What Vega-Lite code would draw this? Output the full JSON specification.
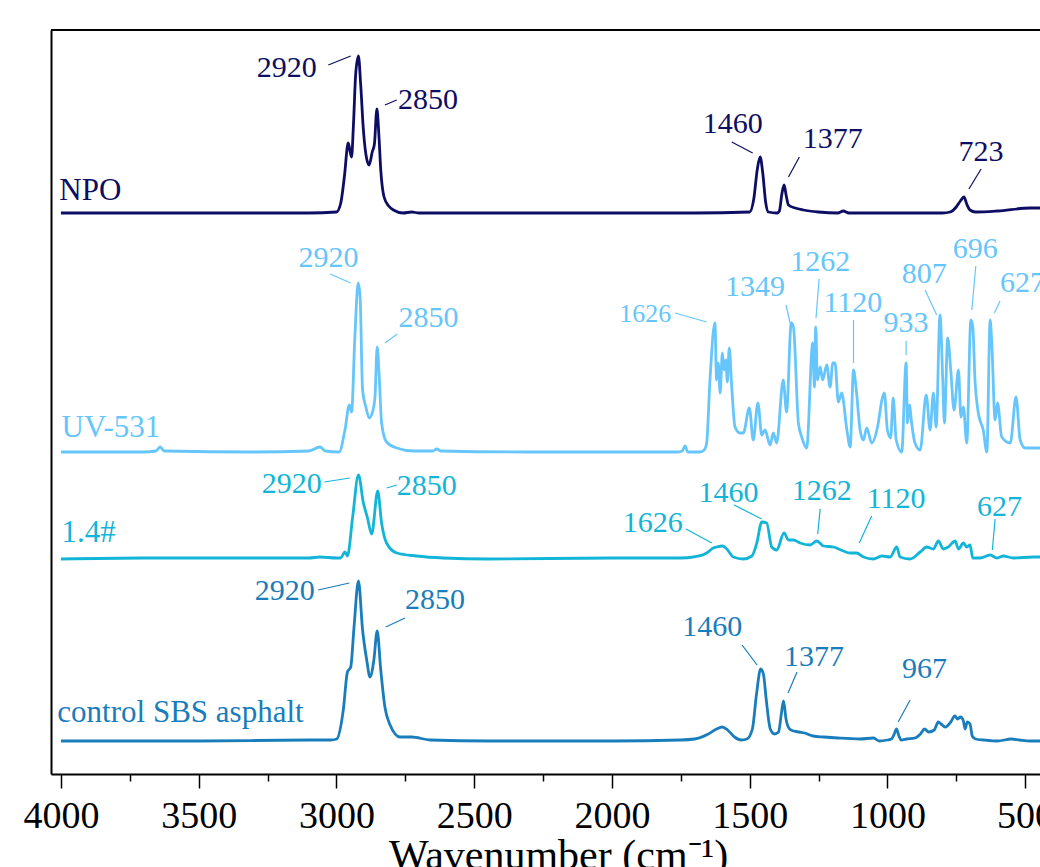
{
 "$schema": "https://vega.github.io/schema/vega-lite/v6.json",
 "width": 989, "height": 744,
 "autosize": {"type": "none"},
 "padding": {"left": 51, "top": 30, "right": 0, "bottom": 93},
 "background": "white",
 "config": {"view": {"stroke": null}, "font": "Liberation Serif"},
 "datasets": {
  "spectra": [
   {"s":"NPO","wn":4000,"a":561},{"s":"NPO","wn":3500,"a":561},{"s":"NPO","wn":3100,"a":561},{"s":"NPO","wn":3000,"a":562},{"s":"NPO","wn":2985,"a":570},{"s":"NPO","wn":2970,"a":600},{"s":"NPO","wn":2960,"a":628},{"s":"NPO","wn":2957,"a":631},{"s":"NPO","wn":2950,"a":622},{"s":"NPO","wn":2945,"a":617},{"s":"NPO","wn":2938,"a":650},{"s":"NPO","wn":2930,"a":700},{"s":"NPO","wn":2920,"a":718},{"s":"NPO","wn":2912,"a":690},{"s":"NPO","wn":2902,"a":644},{"s":"NPO","wn":2890,"a":615},{"s":"NPO","wn":2881,"a":609},{"s":"NPO","wn":2870,"a":622},{"s":"NPO","wn":2862,"a":630},{"s":"NPO","wn":2853,"a":665},{"s":"NPO","wn":2846,"a":640},{"s":"NPO","wn":2839,"a":604},{"s":"NPO","wn":2827,"a":577},{"s":"NPO","wn":2810,"a":568},{"s":"NPO","wn":2793,"a":564},{"s":"NPO","wn":2758,"a":561},{"s":"NPO","wn":2727,"a":562},{"s":"NPO","wn":2700,"a":561},{"s":"NPO","wn":2500,"a":561},{"s":"NPO","wn":2000,"a":561},{"s":"NPO","wn":1700,"a":561},{"s":"NPO","wn":1500,"a":562},{"s":"NPO","wn":1485,"a":575},{"s":"NPO","wn":1472,"a":605},{"s":"NPO","wn":1462,"a":617},{"s":"NPO","wn":1452,"a":600},{"s":"NPO","wn":1442,"a":572},{"s":"NPO","wn":1432,"a":562},{"s":"NPO","wn":1400,"a":561},{"s":"NPO","wn":1392,"a":563},{"s":"NPO","wn":1383,"a":580},{"s":"NPO","wn":1375,"a":589},{"s":"NPO","wn":1367,"a":578},{"s":"NPO","wn":1359,"a":569},{"s":"NPO","wn":1335,"a":566},{"s":"NPO","wn":1305,"a":564},{"s":"NPO","wn":1250,"a":562},{"s":"NPO","wn":1180,"a":561},{"s":"NPO","wn":1160,"a":563},{"s":"NPO","wn":1140,"a":561},{"s":"NPO","wn":1000,"a":561},{"s":"NPO","wn":800,"a":561},{"s":"NPO","wn":772,"a":562},{"s":"NPO","wn":750,"a":567},{"s":"NPO","wn":735,"a":573},{"s":"NPO","wn":722,"a":577},{"s":"NPO","wn":712,"a":570},{"s":"NPO","wn":700,"a":564},{"s":"NPO","wn":680,"a":562},{"s":"NPO","wn":600,"a":563},{"s":"NPO","wn":482,"a":566},{"s":"NPO","wn":446,"a":566},
   {"s":"UV-531","wn":4000,"a":322},{"s":"UV-531","wn":3700,"a":322},{"s":"UV-531","wn":3655,"a":323},{"s":"UV-531","wn":3640,"a":327},{"s":"UV-531","wn":3625,"a":323},{"s":"UV-531","wn":3300,"a":322},{"s":"UV-531","wn":3100,"a":323},{"s":"UV-531","wn":3060,"a":327},{"s":"UV-531","wn":3040,"a":323},{"s":"UV-531","wn":2990,"a":322},{"s":"UV-531","wn":2969,"a":344},{"s":"UV-531","wn":2953,"a":369},{"s":"UV-531","wn":2945,"a":362},{"s":"UV-531","wn":2933,"a":437},{"s":"UV-531","wn":2921,"a":491},{"s":"UV-531","wn":2914,"a":477},{"s":"UV-531","wn":2905,"a":384},{"s":"UV-531","wn":2893,"a":367},{"s":"UV-531","wn":2881,"a":356},{"s":"UV-531","wn":2869,"a":362},{"s":"UV-531","wn":2860,"a":377},{"s":"UV-531","wn":2852,"a":427},{"s":"UV-531","wn":2844,"a":394},{"s":"UV-531","wn":2836,"a":351},{"s":"UV-531","wn":2818,"a":332},{"s":"UV-531","wn":2781,"a":326},{"s":"UV-531","wn":2721,"a":323},{"s":"UV-531","wn":2650,"a":323},{"s":"UV-531","wn":2636,"a":325},{"s":"UV-531","wn":2620,"a":323},{"s":"UV-531","wn":2300,"a":322},{"s":"UV-531","wn":2000,"a":322},{"s":"UV-531","wn":1760,"a":322},{"s":"UV-531","wn":1745,"a":323},{"s":"UV-531","wn":1734,"a":328},{"s":"UV-531","wn":1725,"a":322},{"s":"UV-531","wn":1680,"a":322},{"s":"UV-531","wn":1665,"a":324},{"s":"UV-531","wn":1656,"a":331},{"s":"UV-531","wn":1644,"a":394},{"s":"UV-531","wn":1626,"a":451},{"s":"UV-531","wn":1620,"a":394},{"s":"UV-531","wn":1614,"a":411},{"s":"UV-531","wn":1607,"a":381},{"s":"UV-531","wn":1599,"a":421},{"s":"UV-531","wn":1593,"a":404},{"s":"UV-531","wn":1586,"a":414},{"s":"UV-531","wn":1581,"a":392},{"s":"UV-531","wn":1574,"a":426},{"s":"UV-531","wn":1565,"a":387},{"s":"UV-531","wn":1553,"a":347},{"s":"UV-531","wn":1535,"a":341},{"s":"UV-531","wn":1523,"a":341},{"s":"UV-531","wn":1501,"a":366},{"s":"UV-531","wn":1487,"a":334},{"s":"UV-531","wn":1470,"a":371},{"s":"UV-531","wn":1456,"a":339},{"s":"UV-531","wn":1444,"a":344},{"s":"UV-531","wn":1426,"a":329},{"s":"UV-531","wn":1414,"a":341},{"s":"UV-531","wn":1402,"a":331},{"s":"UV-531","wn":1378,"a":394},{"s":"UV-531","wn":1366,"a":362},{"s":"UV-531","wn":1349,"a":451},{"s":"UV-531","wn":1341,"a":447},{"s":"UV-531","wn":1323,"a":351},{"s":"UV-531","wn":1311,"a":337},{"s":"UV-531","wn":1293,"a":326},{"s":"UV-531","wn":1271,"a":431},{"s":"UV-531","wn":1265,"a":387},{"s":"UV-531","wn":1260,"a":447},{"s":"UV-531","wn":1254,"a":394},{"s":"UV-531","wn":1244,"a":407},{"s":"UV-531","wn":1235,"a":394},{"s":"UV-531","wn":1220,"a":409},{"s":"UV-531","wn":1208,"a":387},{"s":"UV-531","wn":1198,"a":411},{"s":"UV-531","wn":1190,"a":411},{"s":"UV-531","wn":1178,"a":372},{"s":"UV-531","wn":1166,"a":381},{"s":"UV-531","wn":1147,"a":344},{"s":"UV-531","wn":1135,"a":327},{"s":"UV-531","wn":1123,"a":404},{"s":"UV-531","wn":1114,"a":387},{"s":"UV-531","wn":1099,"a":344},{"s":"UV-531","wn":1087,"a":334},{"s":"UV-531","wn":1075,"a":346},{"s":"UV-531","wn":1057,"a":331},{"s":"UV-531","wn":1033,"a":351},{"s":"UV-531","wn":1020,"a":374},{"s":"UV-531","wn":1011,"a":381},{"s":"UV-531","wn":1000,"a":344},{"s":"UV-531","wn":988,"a":336},{"s":"UV-531","wn":979,"a":376},{"s":"UV-531","wn":968,"a":334},{"s":"UV-531","wn":948,"a":322},{"s":"UV-531","wn":932,"a":411},{"s":"UV-531","wn":927,"a":351},{"s":"UV-531","wn":920,"a":369},{"s":"UV-531","wn":912,"a":351},{"s":"UV-531","wn":900,"a":331},{"s":"UV-531","wn":881,"a":324},{"s":"UV-531","wn":859,"a":379},{"s":"UV-531","wn":845,"a":344},{"s":"UV-531","wn":833,"a":381},{"s":"UV-531","wn":823,"a":347},{"s":"UV-531","wn":809,"a":459},{"s":"UV-531","wn":799,"a":394},{"s":"UV-531","wn":793,"a":351},{"s":"UV-531","wn":781,"a":436},{"s":"UV-531","wn":770,"a":404},{"s":"UV-531","wn":758,"a":364},{"s":"UV-531","wn":742,"a":404},{"s":"UV-531","wn":733,"a":357},{"s":"UV-531","wn":724,"a":367},{"s":"UV-531","wn":712,"a":331},{"s":"UV-531","wn":697,"a":454},{"s":"UV-531","wn":690,"a":447},{"s":"UV-531","wn":682,"a":394},{"s":"UV-531","wn":670,"a":361},{"s":"UV-531","wn":652,"a":344},{"s":"UV-531","wn":639,"a":322},{"s":"UV-531","wn":627,"a":454},{"s":"UV-531","wn":621,"a":431},{"s":"UV-531","wn":609,"a":354},{"s":"UV-531","wn":600,"a":371},{"s":"UV-531","wn":585,"a":337},{"s":"UV-531","wn":554,"a":331},{"s":"UV-531","wn":533,"a":377},{"s":"UV-531","wn":518,"a":334},{"s":"UV-531","wn":500,"a":326},{"s":"UV-531","wn":446,"a":326},
   {"s":"1.4#","wn":4000,"a":215},{"s":"1.4#","wn":3700,"a":216},{"s":"1.4#","wn":3300,"a":216},{"s":"1.4#","wn":3100,"a":216},{"s":"1.4#","wn":3060,"a":217},{"s":"1.4#","wn":3000,"a":216},{"s":"1.4#","wn":2985,"a":216},{"s":"1.4#","wn":2969,"a":222},{"s":"1.4#","wn":2960,"a":218},{"s":"1.4#","wn":2941,"a":257},{"s":"1.4#","wn":2920,"a":299},{"s":"1.4#","wn":2902,"a":271},{"s":"1.4#","wn":2888,"a":257},{"s":"1.4#","wn":2872,"a":240},{"s":"1.4#","wn":2850,"a":283},{"s":"1.4#","wn":2836,"a":251},{"s":"1.4#","wn":2818,"a":231},{"s":"1.4#","wn":2781,"a":221},{"s":"1.4#","wn":2709,"a":218},{"s":"1.4#","wn":2612,"a":216},{"s":"1.4#","wn":2450,"a":215},{"s":"1.4#","wn":2000,"a":216},{"s":"1.4#","wn":1750,"a":216},{"s":"1.4#","wn":1704,"a":217},{"s":"1.4#","wn":1656,"a":221},{"s":"1.4#","wn":1632,"a":226},{"s":"1.4#","wn":1620,"a":227},{"s":"1.4#","wn":1598,"a":228},{"s":"1.4#","wn":1583,"a":225},{"s":"1.4#","wn":1559,"a":217},{"s":"1.4#","wn":1523,"a":215},{"s":"1.4#","wn":1492,"a":218},{"s":"1.4#","wn":1474,"a":231},{"s":"1.4#","wn":1456,"a":252},{"s":"1.4#","wn":1438,"a":251},{"s":"1.4#","wn":1420,"a":227},{"s":"1.4#","wn":1402,"a":224},{"s":"1.4#","wn":1375,"a":241},{"s":"1.4#","wn":1359,"a":234},{"s":"1.4#","wn":1341,"a":234},{"s":"1.4#","wn":1317,"a":231},{"s":"1.4#","wn":1281,"a":229},{"s":"1.4#","wn":1256,"a":233},{"s":"1.4#","wn":1232,"a":228},{"s":"1.4#","wn":1196,"a":227},{"s":"1.4#","wn":1160,"a":223},{"s":"1.4#","wn":1136,"a":221},{"s":"1.4#","wn":1112,"a":221},{"s":"1.4#","wn":1087,"a":217},{"s":"1.4#","wn":1051,"a":215},{"s":"1.4#","wn":1020,"a":218},{"s":"1.4#","wn":990,"a":217},{"s":"1.4#","wn":966,"a":227},{"s":"1.4#","wn":954,"a":217},{"s":"1.4#","wn":918,"a":215},{"s":"1.4#","wn":881,"a":222},{"s":"1.4#","wn":857,"a":227},{"s":"1.4#","wn":833,"a":225},{"s":"1.4#","wn":815,"a":233},{"s":"1.4#","wn":797,"a":225},{"s":"1.4#","wn":779,"a":227},{"s":"1.4#","wn":754,"a":233},{"s":"1.4#","wn":742,"a":225},{"s":"1.4#","wn":724,"a":231},{"s":"1.4#","wn":712,"a":227},{"s":"1.4#","wn":700,"a":229},{"s":"1.4#","wn":690,"a":216},{"s":"1.4#","wn":663,"a":216},{"s":"1.4#","wn":627,"a":219},{"s":"1.4#","wn":603,"a":216},{"s":"1.4#","wn":579,"a":218},{"s":"1.4#","wn":543,"a":216},{"s":"1.4#","wn":470,"a":217},{"s":"1.4#","wn":446,"a":217},
   {"s":"control SBS asphalt","wn":4000,"a":33},{"s":"control SBS asphalt","wn":3500,"a":33},{"s":"control SBS asphalt","wn":3100,"a":34},{"s":"control SBS asphalt","wn":3020,"a":34},{"s":"control SBS asphalt","wn":2999,"a":35},{"s":"control SBS asphalt","wn":2975,"a":64},{"s":"control SBS asphalt","wn":2960,"a":102},{"s":"control SBS asphalt","wn":2948,"a":107},{"s":"control SBS asphalt","wn":2936,"a":147},{"s":"control SBS asphalt","wn":2920,"a":193},{"s":"control SBS asphalt","wn":2905,"a":144},{"s":"control SBS asphalt","wn":2890,"a":114},{"s":"control SBS asphalt","wn":2878,"a":97},{"s":"control SBS asphalt","wn":2864,"a":114},{"s":"control SBS asphalt","wn":2852,"a":143},{"s":"control SBS asphalt","wn":2839,"a":104},{"s":"control SBS asphalt","wn":2824,"a":67},{"s":"control SBS asphalt","wn":2805,"a":49},{"s":"control SBS asphalt","wn":2769,"a":37},{"s":"control SBS asphalt","wn":2727,"a":37},{"s":"control SBS asphalt","wn":2660,"a":34},{"s":"control SBS asphalt","wn":2442,"a":33},{"s":"control SBS asphalt","wn":2000,"a":33},{"s":"control SBS asphalt","wn":1750,"a":34},{"s":"control SBS asphalt","wn":1700,"a":35},{"s":"control SBS asphalt","wn":1650,"a":40},{"s":"control SBS asphalt","wn":1620,"a":45},{"s":"control SBS asphalt","wn":1600,"a":47},{"s":"control SBS asphalt","wn":1580,"a":44},{"s":"control SBS asphalt","wn":1555,"a":37},{"s":"control SBS asphalt","wn":1530,"a":34},{"s":"control SBS asphalt","wn":1510,"a":35},{"s":"control SBS asphalt","wn":1490,"a":45},{"s":"control SBS asphalt","wn":1475,"a":80},{"s":"control SBS asphalt","wn":1460,"a":105},{"s":"control SBS asphalt","wn":1450,"a":100},{"s":"control SBS asphalt","wn":1440,"a":75},{"s":"control SBS asphalt","wn":1425,"a":45},{"s":"control SBS asphalt","wn":1410,"a":40},{"s":"control SBS asphalt","wn":1395,"a":42},{"s":"control SBS asphalt","wn":1385,"a":60},{"s":"control SBS asphalt","wn":1377,"a":73},{"s":"control SBS asphalt","wn":1368,"a":55},{"s":"control SBS asphalt","wn":1355,"a":45},{"s":"control SBS asphalt","wn":1340,"a":43},{"s":"control SBS asphalt","wn":1320,"a":42},{"s":"control SBS asphalt","wn":1300,"a":41},{"s":"control SBS asphalt","wn":1270,"a":38},{"s":"control SBS asphalt","wn":1230,"a":37},{"s":"control SBS asphalt","wn":1180,"a":36},{"s":"control SBS asphalt","wn":1100,"a":35},{"s":"control SBS asphalt","wn":1050,"a":36},{"s":"control SBS asphalt","wn":1030,"a":33},{"s":"control SBS asphalt","wn":1000,"a":34},{"s":"control SBS asphalt","wn":985,"a":35},{"s":"control SBS asphalt","wn":975,"a":40},{"s":"control SBS asphalt","wn":967,"a":45},{"s":"control SBS asphalt","wn":958,"a":38},{"s":"control SBS asphalt","wn":950,"a":34},{"s":"control SBS asphalt","wn":930,"a":35},{"s":"control SBS asphalt","wn":900,"a":36},{"s":"control SBS asphalt","wn":880,"a":40},{"s":"control SBS asphalt","wn":865,"a":45},{"s":"control SBS asphalt","wn":850,"a":42},{"s":"control SBS asphalt","wn":830,"a":44},{"s":"control SBS asphalt","wn":815,"a":52},{"s":"control SBS asphalt","wn":805,"a":50},{"s":"control SBS asphalt","wn":790,"a":47},{"s":"control SBS asphalt","wn":770,"a":52},{"s":"control SBS asphalt","wn":755,"a":58},{"s":"control SBS asphalt","wn":745,"a":55},{"s":"control SBS asphalt","wn":735,"a":57},{"s":"control SBS asphalt","wn":725,"a":54},{"s":"control SBS asphalt","wn":718,"a":45},{"s":"control SBS asphalt","wn":710,"a":52},{"s":"control SBS asphalt","wn":700,"a":50},{"s":"control SBS asphalt","wn":692,"a":38},{"s":"control SBS asphalt","wn":680,"a":35},{"s":"control SBS asphalt","wn":650,"a":34},{"s":"control SBS asphalt","wn":600,"a":33},{"s":"control SBS asphalt","wn":550,"a":35},{"s":"control SBS asphalt","wn":520,"a":34},{"s":"control SBS asphalt","wn":480,"a":33},{"s":"control SBS asphalt","wn":446,"a":33}
  ],
  "leaders": [
   {"s":"NPO","wn":3029.5,"a":709,"wn2":2948,"a2":718},{"s":"NPO","wn":2824,"a":669,"wn2":2781,"a2":674},{"s":"NPO","wn":1565,"a":632,"wn2":1489,"a2":621},{"s":"NPO","wn":1319.5,"a":617,"wn2":1359,"a2":597},{"s":"NPO","wn":660,"a":605,"wn2":704,"a2":585},
   {"s":"UV-531","wn":3023,"a":500,"wn2":2948,"a2":491},{"s":"UV-531","wn":2779,"a":440,"wn2":2824,"a2":431},{"s":"UV-531","wn":1771,"a":461,"wn2":1656,"a2":452},{"s":"UV-531","wn":1368,"a":469,"wn2":1353,"a2":451},{"s":"UV-531","wn":1248,"a":495,"wn2":1259,"a2":456},{"s":"UV-531","wn":1123,"a":454,"wn2":1123,"a2":411},{"s":"UV-531","wn":932,"a":433,"wn2":932,"a2":419},{"s":"UV-531","wn":863,"a":484,"wn2":821,"a2":459},{"s":"UV-531","wn":679,"a":508,"wn2":693.5,"a2":464},{"s":"UV-531","wn":591,"a":473,"wn2":611.5,"a2":461},
   {"s":"1.4#","wn":3044,"a":292,"wn2":2951,"a2":296},{"s":"1.4#","wn":2817.5,"a":286,"wn2":2781,"a2":289},{"s":"1.4#","wn":1731,"a":245,"wn2":1637.5,"a2":231},{"s":"1.4#","wn":1556.5,"a":269,"wn2":1456,"a2":255},{"s":"1.4#","wn":1244,"a":265,"wn2":1253,"a2":240},{"s":"1.4#","wn":1057,"a":258,"wn2":1102,"a2":231},{"s":"1.4#","wn":609,"a":255,"wn2":619,"a2":224},
   {"s":"control SBS asphalt","wn":3066,"a":184,"wn2":2953,"a2":191},{"s":"control SBS asphalt","wn":2751,"a":156,"wn2":2821,"a2":147},{"s":"control SBS asphalt","wn":1527.5,"a":129,"wn2":1473,"a2":109},{"s":"control SBS asphalt","wn":1328,"a":102,"wn2":1360.5,"a2":81},{"s":"control SBS asphalt","wn":917.5,"a":74,"wn2":961,"a2":52}
  ],
  "labels": [
   {"s":"NPO","k":"peak","t":"2920","wn":3289.5,"a":697},{"s":"NPO","k":"peak","t":"2850","wn":2776.5,"a":665},{"s":"NPO","k":"peak","t":"1460","wn":1670,"a":641},{"s":"NPO","k":"peak","t":"1377","wn":1307,"a":626},{"s":"NPO","k":"peak","t":"723","wn":742,"a":613},{"s":"NPO","k":"name","t":"NPO","wn":4006,"a":574},
   {"s":"UV-531","k":"peak","t":"2920","wn":3138,"a":507},{"s":"UV-531","k":"peak","t":"2850","wn":2775,"a":447},{"s":"UV-531","k":"small","t":"1626","wn":1973,"a":452},{"s":"UV-531","k":"peak","t":"1349","wn":1589,"a":478},{"s":"UV-531","k":"peak","t":"1262","wn":1353,"a":503},{"s":"UV-531","k":"peak","t":"1120","wn":1232,"a":462},{"s":"UV-531","k":"peak","t":"933","wn":1014.5,"a":442},{"s":"UV-531","k":"peak","t":"807","wn":948,"a":491},{"s":"UV-531","k":"peak","t":"696","wn":762.5,"a":516},{"s":"UV-531","k":"peak","t":"627","wn":591,"a":482},{"s":"UV-531","k":"name","t":"UV-531","wn":3997.5,"a":337},
   {"s":"1.4#","k":"peak","t":"2920","wn":3271,"a":281},{"s":"1.4#","k":"peak","t":"2850","wn":2781,"a":279},{"s":"1.4#","k":"peak","t":"1626","wn":1961,"a":242},{"s":"1.4#","k":"peak","t":"1460","wn":1686,"a":272},{"s":"1.4#","k":"peak","t":"1262","wn":1347,"a":274},{"s":"1.4#","k":"peak","t":"1120","wn":1075,"a":266},{"s":"1.4#","k":"peak","t":"627","wn":675,"a":258},{"s":"1.4#","k":"name","t":"1.4#","wn":3997.5,"a":232},
   {"s":"control SBS asphalt","k":"peak","t":"2920","wn":3296,"a":174},{"s":"control SBS asphalt","k":"peak","t":"2850","wn":2751,"a":165},{"s":"control SBS asphalt","k":"peak","t":"1460","wn":1745,"a":138},{"s":"control SBS asphalt","k":"peak","t":"1377","wn":1375,"a":108},{"s":"control SBS asphalt","k":"peak","t":"967","wn":947,"a":96},{"s":"control SBS asphalt","k":"name","t":"control SBS asphalt","wn":4013,"a":52}
  ]
 },
 "layer": [
  {
   "data": {"name": "spectra"},
   "mark": {"type": "line", "strokeWidth": 2.8, "strokeJoin": "round", "interpolate": "monotone", "clip": true},
   "encoding": {
    "x": {"field": "wn", "type": "quantitative",
      "scale": {"domain": [4036, 446], "nice": false, "zero": false},
      "axis": {"title": "Wavenumber (cm⁻¹)", "values": [4000,3750,3500,3250,3000,2750,2500,2250,2000,1750,1500,1250,1000,750,500],
        "format": "d", "labelExpr": "datum.value % 500 === 0 ? datum.label : ''",
        "tickSize": {"condition": {"test": "datum.value % 500 === 0", "value": 14}, "value": 7},
        "tickColor": "black", "tickWidth": 1.5, "domainColor": "black", "domainWidth": 2,
        "labelFont": "Liberation Serif", "labelFontSize": 38, "labelColor": "black", "labelPadding": 9,
        "labelFlush": false, "labelOverlap": false, "grid": false,
        "titleFont": "Liberation Serif", "titleFontSize": 42, "titleFontWeight": "normal", "titleColor": "black", "titlePadding": 0, "titleX": 507}},
    "y": {"field": "a", "type": "quantitative",
      "scale": {"domain": [0, 744], "nice": false, "zero": false},
      "axis": {"title": null, "ticks": false, "labels": false, "grid": false, "domainColor": "black", "domainWidth": 2}},
    "color": {"field": "s", "type": "nominal",
      "scale": {"domain": ["NPO", "UV-531", "1.4#", "control SBS asphalt"], "range": ["#0d0d63", "#66c6fc", "#12b5d8", "#1a7dbb"]},
      "legend": null}
   }
  },
  {
   "data": {"name": "leaders"},
   "mark": {"type": "rule", "strokeWidth": 1.2},
   "encoding": {
    "x": {"field": "wn", "type": "quantitative"},
    "x2": {"field": "wn2"},
    "y": {"field": "a", "type": "quantitative"},
    "y2": {"field": "a2"},
    "color": {"field": "s", "type": "nominal", "legend": null}
   }
  },
  {
   "data": {"name": "labels"},
   "transform": [{"filter": "datum.k === 'peak'"}],
   "mark": {"type": "text", "align": "left", "baseline": "alphabetic", "fontSize": 30, "font": "Liberation Serif"},
   "encoding": {
    "x": {"field": "wn", "type": "quantitative"},
    "y": {"field": "a", "type": "quantitative"},
    "text": {"field": "t"},
    "color": {"field": "s", "type": "nominal", "legend": null}
   }
  },
  {
   "data": {"name": "labels"},
   "transform": [{"filter": "datum.k === 'small'"}],
   "mark": {"type": "text", "align": "left", "baseline": "alphabetic", "fontSize": 26, "font": "Liberation Serif"},
   "encoding": {
    "x": {"field": "wn", "type": "quantitative"},
    "y": {"field": "a", "type": "quantitative"},
    "text": {"field": "t"},
    "color": {"field": "s", "type": "nominal", "legend": null}
   }
  },
  {
   "data": {"name": "labels"},
   "transform": [{"filter": "datum.k === 'name'"}],
   "mark": {"type": "text", "align": "left", "baseline": "alphabetic", "fontSize": 31, "font": "Liberation Serif"},
   "encoding": {
    "x": {"field": "wn", "type": "quantitative"},
    "y": {"field": "a", "type": "quantitative"},
    "text": {"field": "t"},
    "color": {"field": "s", "type": "nominal", "legend": null}
   }
  },
  {
   "data": {"values": [{"top": 744}]},
   "mark": {"type": "rule", "strokeWidth": 2, "color": "black"},
   "encoding": {"y": {"field": "top", "type": "quantitative"}}
  }
 ]
}
